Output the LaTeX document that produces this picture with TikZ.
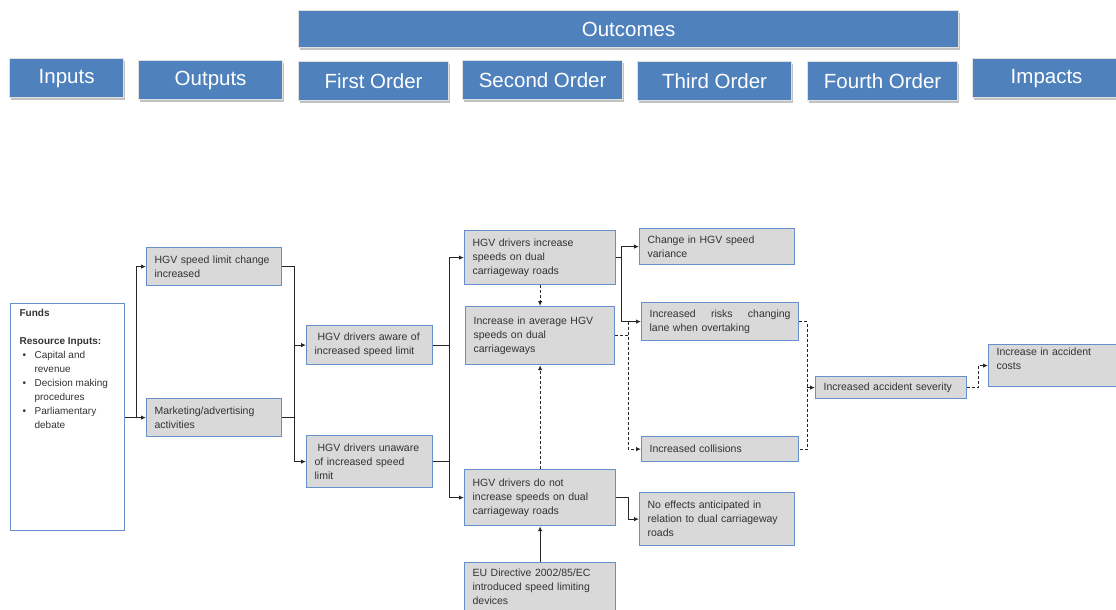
\documentclass[tikz,border=0pt]{standalone}
\usepackage{fontspec}
\setmainfont{Liberation Sans}
\usetikzlibrary{arrows.meta,shadows}
\definecolor{hdblue}{HTML}{4F81BD}
\definecolor{bxblue}{HTML}{6690CC}
\definecolor{bxgray}{HTML}{D9D9D9}
\definecolor{txgray}{HTML}{333333}
\definecolor{lngray}{HTML}{262626}

\begin{document}
\begin{tikzpicture}[x=1pt,y=-1pt,
  head/.style={anchor=north west,fill=hdblue,draw=black!12,line width=1.2pt,text=white,
    font=\fontsize{20.5}{24}\selectfont,minimum height=39pt,inner sep=0pt,
    drop shadow={shadow xshift=1.2pt,shadow yshift=-2pt,fill=black!40,opacity=.6}},
  box/.style={anchor=north west,draw=bxblue,fill=bxgray,line width=1.2pt,text=txgray,
    font=\fontsize{10.5}{14}\selectfont,align=left,inner xsep=8pt,inner ysep=2pt},
  link/.style={color=lngray,line width=1pt,-{Latex[length=5pt,width=4.5pt]}},
  plain/.style={color=lngray,line width=1pt},
  dline/.style={plain,dash pattern=on 3pt off 2pt},
  dlink/.style={link,dash pattern=on 3pt off 2pt}]
\useasboundingbox (0,0) rectangle (1116,610);

% column headings
\node[head,minimum width=660pt,minimum height=37pt] (hout) at (298,10) {Outcomes};
\node[head,minimum width=114pt] (hin) at (9,58) {Inputs};
\node[head,minimum width=144pt] (hpout) at (138,60) {Outputs};
\node[head,minimum width=150pt] (h1) at (298,61) {First Order};
\node[head,minimum width=160pt] (h2) at (462,60) {Second Order};
\node[head,minimum width=154pt] (h3) at (637,61) {Third Order};
\node[head,minimum width=150pt] (h4) at (807,61) {Fourth Order};
\node[head,minimum width=148pt] (himp) at (972,58) {Impacts};

% inputs
\node[box,fill=white,inner xsep=9pt,inner ysep=6pt,font=\fontsize{10}{14}\selectfont] (funds) at (10,303)
  {\parbox[c][215pt][t]{96pt}{\textbf{Funds}\\[14pt]\textbf{Resource Inputs:}\\
   \begin{tabular}[t]{@{}p{15pt}@{}l@{}}
   \hspace*{3pt}\textbullet & Capital and\\ & revenue\\
   \hspace*{3pt}\textbullet & Decision making\\ & procedures\\
   \hspace*{3pt}\textbullet & Parliamentary\\ & debate
   \end{tabular}}};

% outputs
\node[box,text width=119pt,minimum height=38pt] (speed) at (146,247) {HGV speed limit change\\increased};
\node[box,text width=119pt,minimum height=38pt] (mkt) at (146,398) {Marketing/advertising\\activities};

% first order
\node[box,text width=110pt,minimum height=39pt] (aware) at (306,325) {\hspace*{3pt}HGV drivers aware of\\increased speed limit};
\node[box,text width=110pt,minimum height=52pt] (unaware) at (306,435) {\hspace*{3pt}HGV drivers unaware\\of increased speed\\limit};

% second order
\node[box,text width=135pt,minimum height=54pt] (incr) at (464,230) {HGV drivers increase\\speeds on dual\\carriageway roads};
\node[box,text width=133pt,minimum height=58pt] (avg) at (465,306) {Increase in average HGV\\speeds on dual\\carriageways};
\node[box,text width=135pt,minimum height=56pt] (noincr) at (464,469) {HGV drivers do not\\increase speeds on dual\\carriageway roads};
\node[box,text width=135pt,minimum height=48pt] (eu) at (464,562) {EU Directive 2002/85/EC\\introduced speed limiting\\devices};

% third order
\node[box,text width=139pt,minimum height=36pt] (var) at (639,228) {Change in HGV speed\\variance};
\node[box,text width=141pt,minimum height=38pt] (risk) at (641,302) {Increased\hfill risks\hfill changing\\lane when overtaking};
\node[box,text width=141pt,minimum height=25pt] (coll) at (641,436) {Increased collisions};
\node[box,text width=139pt,minimum height=53pt] (noeff) at (639,492) {No effects anticipated in\\relation to dual carriageway\\roads};

% fourth order and impacts
\node[box,text width=135pt,minimum height=22pt] (sev) at (815,376) {Increased accident severity};
\node[box,text width=124pt,minimum height=42pt] (cost) at (988,344) {Increase in accident\\costs\\\mbox{}};

% inputs -> outputs
\path (funds.east |- mkt.west) ++(11,0) coordinate (a1);
\draw[link] (funds.east |- mkt.west) -- (mkt.west);
\draw[link] (a1) |- (speed.west);

% outputs -> first order
\path (speed.east) ++(12,0) coordinate (a2);
\draw[link] (speed.east) -| (a2 |- unaware.west) -- (unaware.west);
\draw[plain] (mkt.east) -- (a2 |- mkt.east);
\path[link] (a2 |- aware.west) edge (aware.west);

% first order -> second order
\path (aware.east) ++(16,0) coordinate (a3);
\draw[plain] (aware.east) -- (a3);
\draw[plain] (unaware.east) -- (a3 |- unaware.east);
\draw[plain] (a3 |- incr.west) -- (a3 |- noincr.west);
\path[link] (a3 |- incr.west) edge (incr.west)
            (a3 |- noincr.west) edge (noincr.west);
\path[link] (eu.north) edge (noincr.south);
\path[dlink] (incr.south) edge (avg.north)
             (noincr.north) edge (avg.south);

% second order -> third order
\path (incr.east) ++(5,0) coordinate (a4);
\draw[plain] (incr.east) -- (a4);
\draw[plain] (a4 |- var.west) -- (a4 |- risk.west);
\path[link] (a4 |- var.west) edge (var.west)
            (a4 |- risk.west) edge (risk.west);
\path (avg.east) ++(13,0) coordinate (a5);
\draw[dline] (avg.east) -- (a5);
\draw[dlink] (a5 |- risk.west) -- (a5 |- coll.west) -- (coll.west);
\path (noincr.east) ++(12,0) coordinate (a8);
\draw[link] (noincr.east) -- (a8) |- (noeff.west);

% third order -> fourth order -> impacts
\path (risk.east) ++(8,0) coordinate (a6);
\draw[dline] (risk.east) -- (a6) -- (a6 |- coll.east) -- (coll.east);
\draw[dlink] (a6 |- sev.west) -- (sev.west);
\path (sev.east) ++(11,0) coordinate (a7);
\draw[dlink] (sev.east) -- (a7) |- (cost.west);
\end{tikzpicture}
\end{document}
